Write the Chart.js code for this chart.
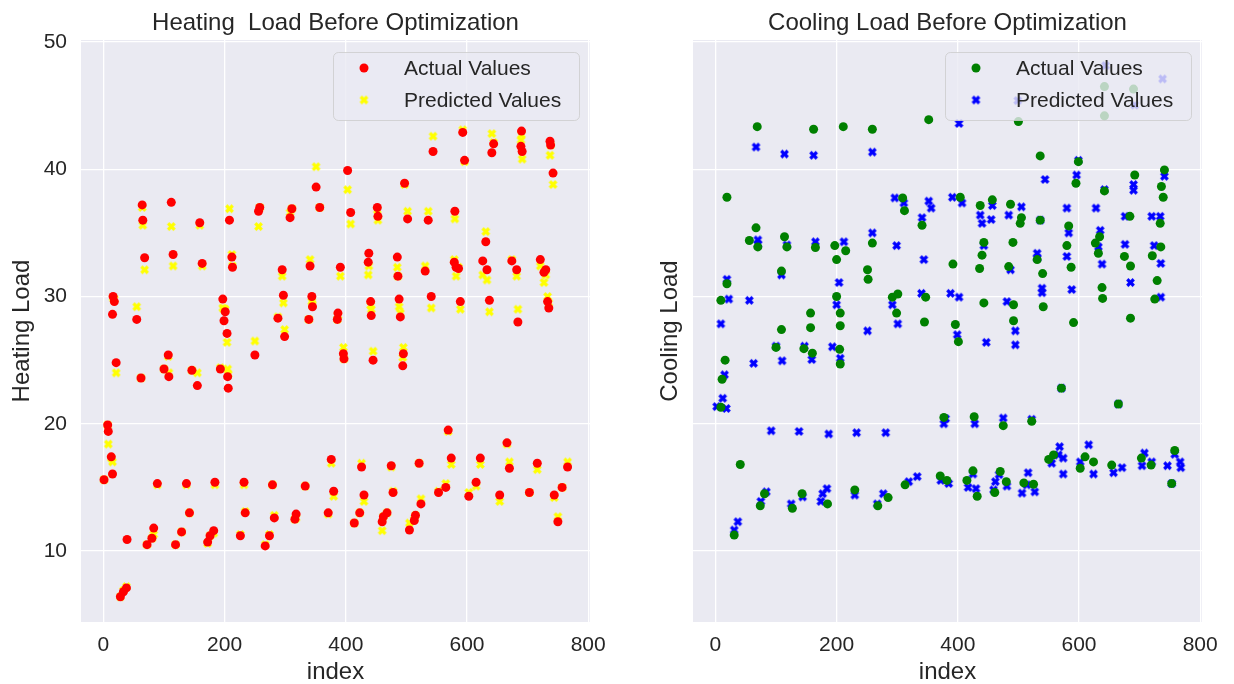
<!DOCTYPE html>
<html>
<head>
<meta charset="utf-8">
<title>Heating / Cooling Load Before Optimization</title>
<script src="https://cdn.jsdelivr.net/npm/chart.js@4.4.1/dist/chart.umd.min.js"></script>
<style>
    html, body { margin: 0; padding: 0; background: #ffffff; overflow: hidden; }
    #heatChart { position: absolute; left: 0; top: 0; }
    #coolChart { position: absolute; left: 610px; top: 0; }
</style>
</head>
<body>
<canvas id="heatChart" width="610" height="684"></canvas>
<canvas id="coolChart" width="624" height="684"></canvas>
<script>
// tick labels
const xTicks = [0, 200, 400, 600, 800];
const yTicks = [10, 20, 30, 40, 50];

// heating load: test-set index, actual and predicted values (null = not visible)
const heatIndex = [
    1, 7, 8, 13, 15, 15, 16, 18, 21, 28,
    33, 38, 39, 55, 62, 64, 65, 68, 72, 80,
    83, 89, 100, 107, 108, 112, 115, 119, 129, 137,
    142, 146, 155, 159, 163, 172, 176, 182, 184, 193,
    197, 199, 201, 204, 205, 206, 208, 212, 213, 226,
    232, 234, 250, 256, 258, 267, 274, 279, 282, 288,
    295, 297, 299, 308, 311, 316, 318, 333, 339, 341,
    344, 345, 351, 357, 371, 376, 380, 386, 387, 391,
    396, 397, 403, 408, 414, 423, 426, 430, 437, 438,
    441, 442, 445, 452, 453, 460, 462, 468, 475, 478,
    485, 486, 488, 490, 494, 495, 497, 502, 505, 513,
    515, 521, 524, 531, 536, 541, 544, 553, 565, 569,
    574, 579, 580, 582, 586, 589, 593, 596, 603, 615,
    622, 626, 631, 633, 637, 641, 644, 654, 666, 670,
    674, 682, 684, 689, 690, 691, 703, 716, 721, 727,
    730, 733, 735, 737, 738, 742, 744, 750, 757, 766
];
const heatActual = [
    15.6, 19.9, 19.4, 17.4, 16.05, 28.6, 30.0, 29.6, 24.8, 6.4,
    6.8, 7.1, 10.9, 28.2, 23.6, 37.2, 36.0, 33.05, 10.5, 11.0,
    11.8, 15.3, 24.3, 25.4, 23.7, 37.4, 33.3, 10.5, 11.5, 15.3,
    13.0, 24.2, 23.0, 35.8, 32.6, 10.7, 11.2, 11.6, 15.4, 24.3,
    29.8, 28.1, 28.8, 27.1, 23.7, 22.8, 36.0, 33.1, 32.3, 11.2,
    15.4, 13.0, 25.4, 36.7, 37.0, 10.4, 11.2, 15.2, 12.6, 28.3,
    32.1, 30.1, 26.85, 36.2, 36.9, 12.5, 12.9, 15.1, 28.2, 32.4,
    30.0, 29.2, 38.6, 37.0, 13.0, 17.2, 14.7, 28.2, 28.7, 32.3,
    25.5, 25.1, 39.9, 36.6, 12.2, 13.0, 16.6, 14.4, 32.7, 33.4,
    29.6, 28.5, 25.0, 37.0, 36.3, 12.3, 12.7, 13.0, 16.7, 14.6,
    33.1, 31.6, 29.8, 28.4, 24.55, 25.5, 38.9, 36.1, 11.65, 12.4,
    12.8, 16.9, 13.7, 32.0, 36.0, 30.0, 41.4, 14.6, 15.0, 19.5,
    17.3, 32.7, 36.7, 32.3, 32.2, 29.6, 42.9, 40.7, 14.3, 15.4,
    17.3, 32.8, 34.3, 32.1, 29.7, 41.3, 42.0, 14.4, 18.5, 16.5,
    32.8, 32.1, 28.0, 41.8, 43.0, 41.4, 14.6, 16.9, 32.9, 31.9,
    32.1, 29.6, 29.1, 42.2, 41.9, 39.7, 14.4, 12.3, 15.0, 16.6
];
const heatPredicted = [
    15.6, 19.9, 18.4, 17.3, 17.0, null, 29.9, 29.8, 24.0, 6.4,
    6.9, 7.2, null, 29.2, 23.6, 37.0, 35.6, 32.1, 10.5, 11.0,
    11.3, 15.2, 24.3, 25.3, 24.0, 35.5, 32.4, 10.5, 11.5, 15.2,
    13.0, 24.2, 24.0, 35.6, 32.4, 10.6, 11.2, 11.4, 15.2, 24.4,
    29.1, 29.0, 29.0, 26.4, 24.3, 23.9, 36.9, 33.3, 32.4, 11.3,
    15.2, 13.1, 26.5, 35.5, 37.0, 10.5, 11.3, 15.2, 12.8, 28.4,
    31.6, 29.5, 27.4, 36.6, 36.9, 12.5, 12.6, 15.1, 28.2, 32.9,
    29.6, 29.4, 40.2, 37.0, 12.9, 16.9, 14.3, 28.2, 28.5, 31.6,
    26.0, 25.1, 38.4, 35.7, 12.2, 13.0, 16.9, 13.9, 31.7, 32.4,
    29.3, 29.0, 25.7, 36.8, 36.0, 11.6, 12.7, 13.0, 16.6, 14.7,
    32.3, 31.6, 29.2, 28.7, 25.2, 26.0, 38.8, 36.7, 12.2, 12.5,
    12.8, 16.9, 14.1, 32.4, 36.7, 29.1, 42.6, 14.7, 15.3, 19.4,
    16.8, 32.9, 36.1, 31.6, 32.3, 29.0, 43.1, 40.6, 14.6, 15.1,
    16.8, 31.7, 35.1, 31.3, 28.8, 42.8, 42.1, 13.9, 18.4, 17.0,
    32.9, 31.6, 29.0, 42.3, 42.7, 40.8, 14.6, 16.4, 32.4, 31.1,
    31.7, 30.0, 29.5, 41.1, 41.9, 38.8, 14.2, 12.7, 15.0, 17.0
];

// cooling load: actual values
const coolActualIndex = [
    69, 162, 211, 259, 352, 500, 642, 642, 690, 19,
    67, 56, 70, 114, 118, 165, 197, 215, 200, 259,
    309, 312, 341, 19, 109, 251, 252, 9, 200, 292,
    301, 347, 536, 599, 595, 692, 642, 741, 736, 739,
    404, 437, 457, 487, 505, 503, 536, 583, 684, 734,
    634, 443, 440, 491, 531, 580, 627, 632, 675, 685,
    735, 721, 392, 436, 484, 540, 587, 729, 638, 639,
    725, 443, 492, 541, 157, 206, 157, 206, 109, 299,
    345, 396, 100, 146, 160, 205, 206, 16, 11, 9,
    377, 41, 81, 74, 127, 143, 185, 230, 285, 268,
    313, 371, 31, 401, 492, 591, 685, 571, 665, 427,
    475, 522, 558, 550, 602, 610, 624, 654, 703, 719,
    758, 753, 382, 425, 415, 432, 470, 461, 480, 509,
    525
];
const coolActual = [
    43.35, 43.15, 43.35, 43.15, 43.9, 43.75, 46.5, 44.2, 46.3, 37.8,
    35.4, 34.4, 33.9, 34.7, 33.9, 33.85, 34.0, 33.6, 32.9, 34.2,
    37.75, 36.75, 35.6, 31.0, 32.0, 32.1, 31.35, 29.7, 30.0, 29.95,
    30.2, 29.95, 41.05, 40.6, 38.9, 39.55, 38.3, 39.95, 38.65, 37.8,
    37.8, 37.15, 37.6, 37.25, 36.2, 35.75, 36.0, 35.55, 36.3, 35.75,
    34.7, 34.25, 33.25, 34.25, 32.9, 34.0, 34.2, 33.4, 33.15, 32.4,
    33.9, 33.2, 32.55, 32.2, 32.35, 31.8, 32.3, 31.25, 30.7, 29.85,
    29.8, 29.5, 29.35, 29.2, 28.7, 28.7, 27.55, 27.7, 27.4, 28.7,
    28.0, 27.8, 26.0, 25.9, 25.55, 25.85, 24.7, 25.0, 23.5, 21.3,
    20.5, 16.8, 14.5, 13.55, 13.35, 14.5, 13.7, 14.8, 14.2, 13.55,
    15.2, 15.9, 11.25, 26.45, 28.1, 27.95, 28.3, 22.8, 21.55, 20.55,
    19.85, 20.2, 17.55, 17.2, 16.5, 17.4, 17.0, 16.75, 17.3, 16.75,
    17.9, 15.3, 15.55, 16.3, 15.55, 14.3, 16.25, 14.6, 15.45, 15.35,
    15.25
];

// cooling load: predicted values
const coolPredIndex = [
    67, 114, 162, 259, 402, 499, 644, 692, 738, 70,
    70, 118, 165, 212, 259, 299, 296, 311, 352, 356,
    341, 344, 391, 19, 109, 204, 22, 56, 200, 292,
    340, 388, 599, 596, 544, 690, 690, 642, 741, 407,
    457, 505, 437, 440, 455, 484, 536, 580, 628, 583,
    676, 720, 734, 635, 443, 531, 531, 580, 632, 638,
    676, 724, 735, 487, 685, 539, 539, 588, 735, 402,
    481, 9, 251, 301, 399, 100, 147, 159, 193, 206,
    15, 63, 110, 12, 2, 18, 92, 138, 187, 233,
    281, 377, 84, 75, 125, 144, 184, 177, 174, 230,
    277, 267, 319, 333, 372, 385, 37, 31, 447, 495,
    495, 571, 665, 380, 428, 475, 522, 568, 555, 574,
    574, 602, 616, 624, 657, 671, 708, 704, 720, 746,
    758, 767, 768, 753, 425, 417, 430, 468, 462, 459,
    481, 516, 514, 506, 527, 566
];
const coolPredicted = [
    41.75, 41.2, 41.1, 41.35, 43.6, 45.4, 48.15, 45.05, 47.1, 34.45,
    34.1, 34.05, 34.3, 34.3, 35.0, 34.0, 37.75, 37.35, 37.5, 36.95,
    36.2, 32.9, 37.8, 31.35, 31.7, 31.1, 29.8, 29.7, 29.35, 29.35,
    30.25, 30.25, 40.7, 39.55, 39.2, 38.8, 38.35, 38.4, 39.45, 37.35,
    37.15, 37.05, 36.4, 35.75, 36.05, 36.4, 36.0, 36.95, 36.95, 35.0,
    36.3, 36.3, 36.3, 35.2, 34.0, 33.4, 33.0, 33.15, 33.9, 32.55,
    34.1, 34.0, 32.6, 32.1, 31.1, 30.65, 30.3, 30.55, 29.95, 29.95,
    29.6, 27.85, 27.3, 27.85, 27.0, 26.1, 26.1, 25.05, 26.05, 25.15,
    23.85, 24.75, 24.95, 22.0, 21.35, 21.2, 19.45, 19.4, 19.2, 19.3,
    19.3, 20.0, 14.65, 13.9, 13.7, 14.25, 14.9, 14.5, 13.9, 14.4,
    14.5, 13.7, 15.45, 15.85, 15.55, 15.3, 12.3, 11.65, 26.4, 27.3,
    26.2, 22.8, 21.55, 20.4, 20.0, 20.45, 20.35, 18.2, 16.9, 17.3,
    16.05, 17.0, 18.35, 16.05, 16.15, 16.55, 17.7, 16.7, 17.0, 16.7,
    17.6, 17.0, 16.55, 15.3, 16.05, 15.0, 14.9, 16.0, 15.45, 14.8,
    15.1, 16.15, 15.2, 14.55, 14.65, 17.55
];

const FONT = '"Liberation Sans", Arial, sans-serif';
const TEXT = '#262626';

// filled "X" marker like matplotlib's
function xMarker(color) {
    const c = document.createElement('canvas');
    c.width = 11; c.height = 11;
    const g = c.getContext('2d');
    g.translate(5.5, 5.5);
    g.rotate(Math.PI / 4);
    g.fillStyle = color;
    g.fillRect(-4.6, -1.6, 9.2, 3.2);
    g.fillRect(-1.6, -4.6, 3.2, 9.2);
    return c;
}

function toPoints(xs, ys) {
    return xs.map((x, i) => ({ x: x, y: ys[i] })).filter(p => p.y !== null);
}

const plotBackground = {
    id: 'plotBackground',
    beforeDraw(chart) {
        const a = chart.chartArea;
        const ctx = chart.ctx;
        ctx.save();
        ctx.fillStyle = '#EAEAF2';
        ctx.fillRect(a.left, a.top, a.right - a.left, a.bottom - a.top);
        ctx.restore();
    }
};

// title centred over the plot area (matplotlib style)
const axesTitle = {
    id: 'axesTitle',
    afterDraw(chart, args, opts) {
        const a = chart.chartArea;
        const ctx = chart.ctx;
        ctx.save();
        ctx.fillStyle = TEXT;
        ctx.font = '24px ' + FONT;
        ctx.textAlign = 'center';
        ctx.textBaseline = 'middle';
        ctx.fillText(opts.text, (a.left + a.right) / 2, 23);
        ctx.restore();
    }
};

// legend box drawn inside the plot, upper right
const innerLegend = {
    id: 'innerLegend',
    afterDatasetsDraw(chart) {
        const a = chart.chartArea;
        const ctx = chart.ctx;
        const w = 246, h = 68;
        const left = a.right - 11 - w, top = a.top + 12;
        ctx.save();
        ctx.beginPath();
        ctx.roundRect(left + 0.5, top + 0.5, w, h, 5);
        ctx.fillStyle = 'rgba(234,234,242,0.8)';
        ctx.fill();
        ctx.strokeStyle = 'rgba(204,204,204,0.8)';
        ctx.lineWidth = 1;
        ctx.stroke();
        chart.data.datasets.forEach((ds, i) => {
            const y = top + 16 + i * 32;
            const mx = left + 31;
            if (ds.pointStyle === 'circle') {
                ctx.beginPath();
                ctx.arc(mx, y, ds.pointRadius, 0, Math.PI * 2);
                ctx.fillStyle = ds.backgroundColor;
                ctx.fill();
            } else {
                ctx.drawImage(ds.pointStyle, mx - 5.5, y - 5.5);
            }
            ctx.fillStyle = TEXT;
            ctx.font = '21px ' + FONT;
            ctx.textBaseline = 'middle';
            ctx.fillText(ds.label, left + 71, y + 1);
        });
        ctx.restore();
    }
};

function makeConfig(title, yTitle, datasets, yWidth, yTitlePad, showYLabels, rightPad) {
    return {
        type: 'scatter',
        data: { datasets: datasets },
        options: {
            responsive: false,
            animation: false,
            devicePixelRatio: 1,
            layout: { padding: { left: 0, right: rightPad, top: 40, bottom: 0 } },
            plugins: {
                legend: { display: false },
                tooltip: { enabled: false },
                title: { display: false },
                axesTitle: { text: title }
            },
            scales: {
                x: {
                    type: 'linear',
                    min: -37,
                    max: 803,
                    afterBuildTicks: s => { s.ticks = xTicks.map(v => ({ value: v })); },
                    afterFit: s => { s.height = 62; s.paddingLeft = 0; s.paddingRight = 0; },
                    grid: { color: '#ffffff', lineWidth: 1.3, drawTicks: false },
                    border: { display: false },
                    ticks: { padding: 11, color: TEXT, font: { family: FONT, size: 21 } },
                    title: {
                        display: true,
                        text: 'index',
                        color: TEXT,
                        font: { family: FONT, size: 24 },
                        padding: { top: 0, bottom: -3 }
                    }
                },
                y: {
                    type: 'linear',
                    min: 4.42,
                    max: 50.16,
                    afterBuildTicks: s => { s.ticks = yTicks.map(v => ({ value: v })); },
                    afterFit: s => { s.width = yWidth; s.paddingTop = 0; s.paddingBottom = 0; },
                    grid: { color: '#ffffff', lineWidth: 1.3, drawTicks: false },
                    border: { display: false },
                    ticks: { display: showYLabels, padding: 14, color: TEXT, font: { family: FONT, size: 21 } },
                    title: {
                        display: true,
                        text: yTitle,
                        color: TEXT,
                        font: { family: FONT, size: 24 },
                        padding: { top: yTitlePad, bottom: 0 }
                    }
                }
            }
        },
        plugins: [plotBackground, innerLegend, axesTitle]
    };
}

const heatDatasets = [
    {
        label: 'Actual Values',
        data: toPoints(heatIndex, heatActual),
        pointStyle: 'circle',
        pointRadius: 4.5,
        backgroundColor: 'red',
        borderWidth: 0
    },
    {
        label: 'Predicted Values',
        data: toPoints(heatIndex, heatPredicted),
        pointStyle: xMarker('yellow'),
        pointRadius: 5,
        backgroundColor: 'yellow',
        borderWidth: 0
    }
];

const coolDatasets = [
    {
        label: 'Actual Values',
        data: toPoints(coolActualIndex, coolActual),
        pointStyle: 'circle',
        pointRadius: 4.5,
        backgroundColor: 'green',
        borderWidth: 0
    },
    {
        label: 'Predicted Values',
        data: toPoints(coolPredIndex, coolPredicted),
        pointStyle: xMarker('blue'),
        pointRadius: 5,
        backgroundColor: 'blue',
        borderWidth: 0
    }
];

var heatChart = new Chart(
    document.getElementById('heatChart'),
    makeConfig('Heating  Load Before Optimization', 'Heating Load', heatDatasets, 81, 8, true, 20)
);

var coolChart = new Chart(
    document.getElementById('coolChart'),
    makeConfig('Cooling Load Before Optimization', 'Cooling Load', coolDatasets, 83, 46, false, 32)
);
</script>
</body>
</html>
